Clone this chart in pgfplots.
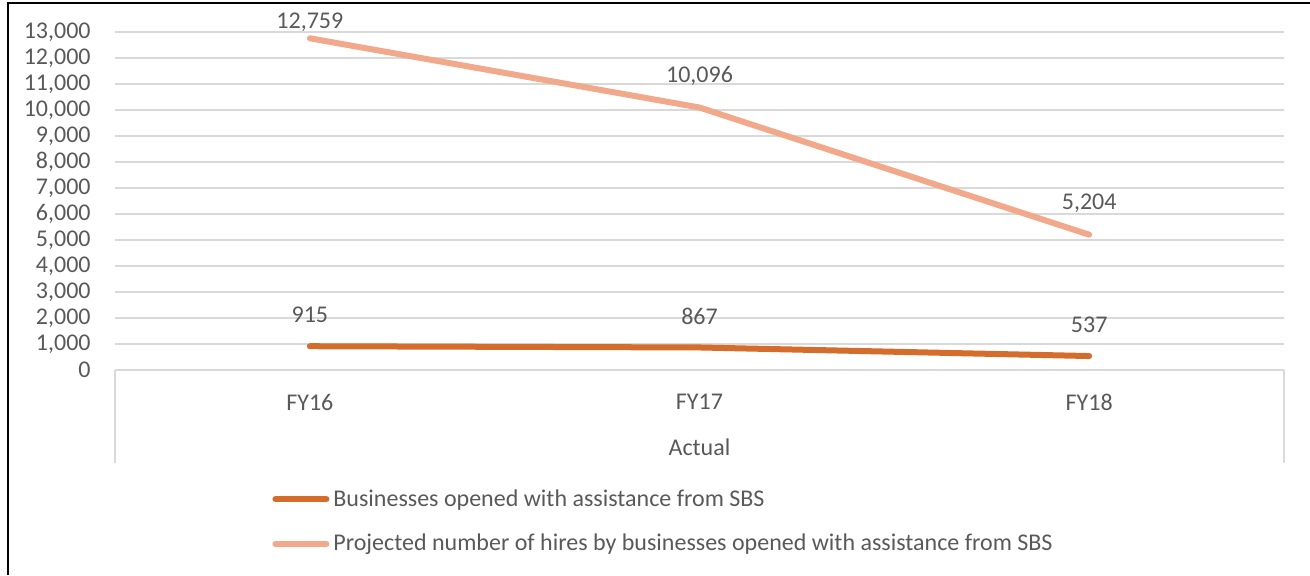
\documentclass[border=0pt]{standalone}
\usepackage{pgfplots}
\pgfplotsset{compat=1.18}
\usepackage{pgfplotstable}
\usepackage{fontspec}
\setmainfont{Carlito}

\definecolor{txt}{HTML}{595959}
\definecolor{gridc}{HTML}{D9D9D9}
\definecolor{darkor}{HTML}{D46C2B}
\definecolor{lightor}{HTML}{F2A88A}

% x = category index (FY16, FY17, FY18)
\pgfplotstableread{
x y label
0 915 915
1 867 867
2 537 537
}\opened

\pgfplotstableread{
x y label
0 12759 12,759
1 10096 10,096
2 5204 5,204
}\hires

\newcommand{\lbl}{\fontsize{12}{14}\selectfont}

\begin{document}
\begin{tikzpicture}
\useasboundingbox (0,0) rectangle (655pt,287.5pt);
\draw[line width=1pt] (4pt,0pt) -- (4pt,286pt) -- (655pt,286pt);
\begin{axis}[
    at={(57.5pt,102.5pt)}, anchor=south west,
    width=584.5pt, height=169pt, scale only axis,
    xmin=-0.5, xmax=2.5, ymin=0, ymax=13000,
    xtick={0,1,2}, xticklabels={FY16,FY17,FY18},
    ytick={0,1000,...,13000},
    scaled y ticks=false,
    ymajorgrids, grid style={gridc, line width=0.75pt},
    axis line style={draw=none},
    major tick length=0pt,
    clip=false,
    /pgf/number format/.cd, 1000 sep={,}, assume math mode=true, /pgfplots/.cd,
    every tick label/.append style={font=\lbl, text=txt},
    yticklabel style={anchor=east, inner sep=0pt, xshift=-12pt},
    xticklabel style={anchor=center, inner sep=0pt, yshift=-16pt},
    xlabel={Actual},
    xlabel style={at={(axis description cs:0.5,0)}, anchor=center, yshift=-38.5pt, font=\lbl, text=txt},
    point meta=explicit symbolic,
    nodes near coords,
    every node near coord/.append style={anchor=center, inner sep=0pt, yshift=15.7pt, font=\lbl, text=txt},
    coordinate style/.condition={y>12000}{yshift=-7.8pt},
    legend style={at={(axis description cs:0.1292,-0.4482)}, anchor=west,
        draw=none, fill=none, font=\lbl, text=txt,
        nodes={inner sep=0pt}, row sep=12.5pt, column sep=2pt},
    legend cell align=left,
    legend image code/.code={\draw[#1, line width=3pt, line cap=round] (0pt,0pt) -- (25.5pt,0pt);},
]
\addplot[darkor, line width=3pt, line cap=round, line join=round] table[x=x, y=y, meta=label] {\opened};
\addlegendentry{Businesses opened with assistance from SBS}
\addplot[lightor, line width=3pt, line cap=round, line join=round] table[x=x, y=y, meta=label] {\hires};
\addlegendentry{Projected number of hires by businesses opened with assistance from SBS}
\draw[gridc, line width=0.75pt] (axis cs:-0.5,0) -- ++(0pt,-46.5pt);
\draw[gridc, line width=0.75pt] (axis cs:2.5,0) -- ++(0pt,-46.5pt);
\end{axis}
\end{tikzpicture}
\end{document}
